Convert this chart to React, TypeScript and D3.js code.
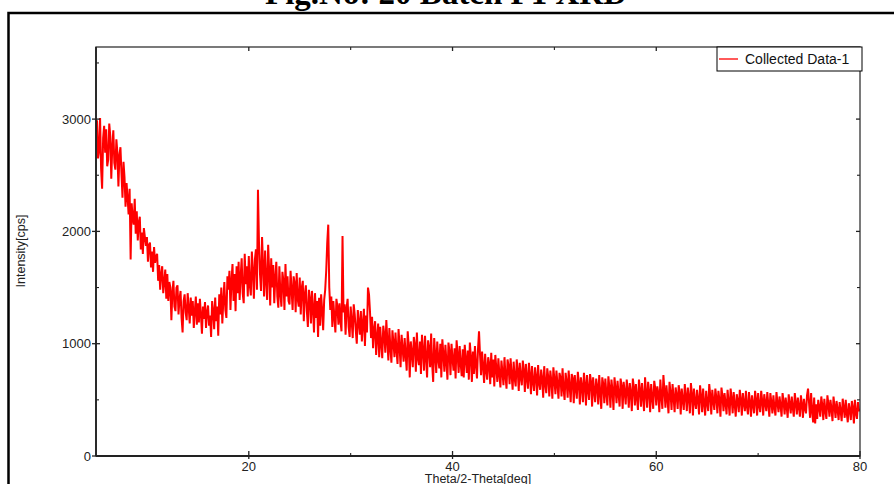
import React from "react";
import * as d3 from "d3";

const scanStart = 5;
const scanStep = 0.1;

const intensity05to20 = [
  2880, 2990, 2650, 2720, 3010, 2560, 2380, 2830, 2940, 2700,
  2910, 2580, 2640, 2960, 2850, 2470, 2760, 2900, 2610, 2550,
  2820, 2700, 2400, 2680, 2750, 2520, 2300, 2620, 2480, 2220,
  2430, 2300, 2150, 2380, 1750, 2250, 2120, 2060, 2290, 1980,
  2180, 1920, 2080, 2130, 1840, 1990, 1800, 2030, 1950, 1870,
  1950, 1730, 1880, 1900, 1680, 1820, 1640, 1860, 1720, 1780,
  1800, 1560, 1700, 1480, 1620, 1690, 1450, 1550, 1660, 1400,
  1620, 1380, 1550, 1500, 1210, 1460, 1560, 1330, 1290, 1500,
  1520, 1260, 1400, 1470, 1230, 1100, 1380, 1440, 1280, 1210,
  1450, 1320, 1180, 1410, 1250, 1380, 1140, 1290, 1420, 1170,
  1360, 1190, 1400, 1260, 1090, 1330, 1220, 1370, 1140, 1280,
  1340, 1160, 1250, 1060, 1380, 1290, 1130, 1410, 1200, 1330,
  1070, 1440, 1260, 1500, 1180, 1380, 1550, 1300, 1230, 1600,
  1480, 1650, 1300, 1560, 1710, 1380, 1620, 1290, 1690, 1450,
  1730, 1390, 1600, 1760, 1450, 1360, 1800, 1530, 1690, 1420,
];

const intensity20to35 = [
  1780, 1520, 1430, 1820, 1650, 1400, 1750, 1840, 1480, 2370,
  1900, 1620, 1470, 1950, 1700, 1420, 1830, 1560, 1390, 1880,
  1650, 1340, 1760, 1500, 1700, 1360, 1580, 1730, 1420, 1320,
  1690, 1450, 1330, 1640, 1560, 1300, 1710, 1420, 1600, 1380,
  1350, 1650, 1480, 1300, 1600, 1540, 1280, 1630, 1400, 1330,
  1590, 1260, 1500, 1560, 1200, 1440, 1520, 1290, 1150, 1480,
  1400, 1180, 1470, 1320, 1100, 1450, 1230, 1380, 1060, 1410,
  1160, 1440, 1300, 1120, 1390, 1480, 1650, 1900, 2060, 1500,
  1300, 1420, 1150, 1380, 1240, 1100, 1400, 1330, 1170, 1360,
  1200, 1110, 1960, 1280, 1350, 1080, 1320, 1400, 1150, 1060,
  1330, 1200, 1050, 1350, 1260, 1120, 1000, 1300, 1190, 1080,
  1290, 1020, 1180, 1310, 980, 1250, 1100, 1500, 1440, 1280,
  1050, 1240, 960, 1130, 1200, 900, 1060, 1180, 880, 1150,
  1000, 870, 1160, 1080, 920, 1210, 1030, 850, 1140, 960,
  830, 1120, 1010, 880, 1100, 940, 820, 1130, 980, 790,
];

const intensity35to50 = [
  1080, 950, 840, 1050, 900, 760, 1110, 980, 700, 1020,
  920, 790, 1060, 990, 750, 1100, 870, 810, 1020, 730,
  1080, 940, 760, 1070, 880, 700, 1030, 960, 790, 1090,
  820, 660, 1050, 900, 740, 1020, 860, 780, 1000, 700,
  1040, 910, 750, 990, 840, 680, 1010, 930, 720, 1000,
  860, 760, 960, 690, 1030, 900, 740, 980, 820, 710,
  950, 700, 990, 860, 740, 940, 680, 1010, 880, 660,
  930, 730, 980, 810, 690, 950, 1110, 900, 720, 930,
  800, 650, 910, 760, 680, 880, 820, 640, 920, 700,
  860, 620, 900, 780, 660, 870, 730, 610, 850, 750,
  630, 880, 710, 600, 860, 800, 640, 870, 720, 590,
  840, 690, 620, 860, 760, 580, 830, 700, 630, 850,
  760, 570, 820, 690, 600, 830, 720, 550, 800, 660,
  580, 790, 700, 540, 810, 650, 590, 770, 690, 520,
  800, 640, 560, 780, 700, 530, 760, 670, 510, 790,
];

const intensity50to65 = [
  680, 550, 760, 640, 510, 740, 700, 530, 780, 600,
  500, 740, 660, 520, 760, 620, 480, 730, 690, 470,
  720, 600, 510, 750, 650, 460, 700, 620, 480, 740,
  630, 450, 720, 590, 500, 730, 660, 440, 700, 580,
  480, 690, 620, 460, 720, 560, 420, 700, 640, 470,
  690, 560, 450, 710, 610, 430, 680, 590, 410, 700,
  600, 470, 670, 550, 440, 690, 620, 420, 660, 570,
  460, 680, 590, 430, 650, 560, 400, 690, 610, 450,
  640, 520, 410, 680, 590, 440, 650, 530, 400, 700,
  560, 430, 660, 580, 390, 640, 520, 420, 670, 600,
  450, 620, 560, 390, 680, 530, 420, 720, 590, 430,
  630, 510, 380, 660, 560, 410, 640, 520, 390, 610,
  540, 420, 630, 560, 370, 600, 500, 410, 640, 530,
  400, 610, 520, 380, 650, 550, 360, 600, 480, 420,
  590, 500, 370, 630, 530, 390, 600, 470, 360, 580,
];

const intensity65to80 = [
  470, 400, 640, 540, 370, 590, 490, 410, 600, 520,
  380, 580, 500, 350, 610, 530, 400, 560, 470, 370,
  590, 480, 360, 600, 510, 380, 570, 460, 350, 550,
  490, 390, 590, 500, 360, 560, 470, 400, 580, 440,
  370, 570, 480, 350, 540, 460, 380, 580, 500, 360,
  560, 450, 390, 580, 490, 360, 550, 470, 400, 570,
  460, 350, 560, 480, 380, 540, 430, 360, 570, 470,
  390, 530, 450, 350, 560, 480, 370, 520, 440, 340,
  550, 460, 380, 530, 430, 350, 560, 470, 370, 520,
  440, 350, 540, 460, 340, 510, 420, 380, 540, 600,
  470, 340, 560, 400, 300, 520, 290, 460, 330, 500,
  430, 350, 530, 450, 320, 510, 400, 330, 540, 460,
  350, 500, 420, 310, 530, 440, 340, 490, 410, 320,
  480, 400, 310, 510, 430, 340, 500, 380, 300, 470,
  410, 320, 490, 430, 290, 500, 380, 330, 480, 400,
  420,
];

const xMajorTicks = [20, 40, 60, 80];
const xMinorTicks = [30, 50, 70];
const yMajorTicks = [0, 1000, 2000, 3000];
const yMinorTicks = [500, 1500, 2500, 3500];

const titleText = "Fig.No: 20 Batch F1 XRD";
const xTitle = "Theta/2-Theta[deg]";
const yTitle = "Intensity[cps]";
const seriesName = "Collected Data-1";

export default function App() {
  const W = 894;
  const H = 484;
  const left = 96;
  const right = 860;
  const top = 47;
  const bottom = 456;

  const x = d3.scaleLinear().domain([5, 80]).range([left, right]);
  const y = d3.scaleLinear().domain([0, 3642]).range([bottom, top]);

  const values = [
    ...intensity05to20,
    ...intensity20to35,
    ...intensity35to50,
    ...intensity50to65,
    ...intensity65to80,
  ];
  const data = values.map((v, i) => ({ t: scanStart + i * scanStep, v }));

  const line = d3
    .line<{ t: number; v: number }>()
    .x((d) => x(d.t))
    .y((d) => y(d.v));

  const sans = "'Liberation Sans', Arial, sans-serif";
  const axisColor = "#333";

  return (
    <svg
      width={W}
      height={H}
      style={{ position: "absolute", left: 0, top: 0, background: "#fff" }}
    >
      <defs>
        <clipPath id="plotClip">
          <rect x={left} y={top} width={right - left} height={bottom - top} />
        </clipPath>
        <clipPath id="legClip">
          <rect x={717} y={47} width={145} height={24} />
        </clipPath>
      </defs>
      <rect x={0} y={0} width={W} height={H} fill="#fff" />
      <text
        x={446}
        y={4}
        textAnchor="middle"
        fontFamily="'Liberation Serif', 'Times New Roman', serif"
        fontWeight="bold"
        fontSize={33}
        fill="#000"
      >
        {titleText}
      </text>
      <rect
        x={8.5}
        y={13}
        width={W + 20}
        height={H + 20}
        fill="none"
        stroke="#000"
        strokeWidth={2.5}
      />

      <path
        d={line(data) || ""}
        fill="none"
        stroke="#ff0000"
        strokeWidth={2}
        strokeLinejoin="bevel"
        clipPath="url(#plotClip)"
      />

      <rect
        x={left}
        y={top}
        width={right - left}
        height={bottom - top}
        fill="none"
        stroke={axisColor}
        strokeWidth={1.3}
      />
      <line x1={left} y1={top} x2={left} y2={bottom} stroke="#222" strokeWidth={1.8} />
      <line x1={left} y1={bottom} x2={right} y2={bottom} stroke="#222" strokeWidth={1.8} />

      {yMajorTicks.map((t) => (
        <g key={"ym" + t}>
          <line x1={left - 4} x2={left + 4} y1={y(t)} y2={y(t)} stroke="#222" strokeWidth={1.3} />
          <line x1={right - 4} x2={right} y1={y(t)} y2={y(t)} stroke="#222" strokeWidth={1.3} />
          <text
            x={left - 5}
            y={y(t)}
            textAnchor="end"
            dominantBaseline="central"
            fontFamily={sans}
            fontSize={13}
            fill="#222"
          >
            {t}
          </text>
        </g>
      ))}
      {yMinorTicks.map((t) => (
        <g key={"yn" + t}>
          <line x1={left} x2={left + 3} y1={y(t)} y2={y(t)} stroke="#222" strokeWidth={1.1} />
          <line x1={right - 3} x2={right} y1={y(t)} y2={y(t)} stroke="#222" strokeWidth={1.1} />
        </g>
      ))}
      {xMajorTicks.map((t) => (
        <g key={"xm" + t}>
          <line x1={x(t)} x2={x(t)} y1={bottom - 5} y2={bottom + 3} stroke="#222" strokeWidth={1.3} />
          <line x1={x(t)} x2={x(t)} y1={top} y2={top + 4} stroke="#222" strokeWidth={1.3} />
          <text
            x={x(t)}
            y={471}
            textAnchor="middle"
            fontFamily={sans}
            fontSize={13}
            fill="#222"
          >
            {t}
          </text>
        </g>
      ))}
      {xMinorTicks.map((t) => (
        <g key={"xn" + t}>
          <line x1={x(t)} x2={x(t)} y1={bottom - 3} y2={bottom} stroke="#222" strokeWidth={1.1} />
          <line x1={x(t)} x2={x(t)} y1={top} y2={top + 3} stroke="#222" strokeWidth={1.1} />
        </g>
      ))}

      <text
        x={478}
        y={483}
        textAnchor="middle"
        fontFamily={sans}
        fontSize={12.5}
        fill="#222"
      >
        {xTitle}
      </text>
      <text
        transform={`translate(21, 251) rotate(-90)`}
        textAnchor="middle"
        dominantBaseline="central"
        fontFamily={sans}
        fontSize={12.5}
        fill="#222"
      >
        {yTitle}
      </text>

      <g>
        <rect x={717} y={47} width={145} height={24} fill="#fff" stroke="#000" strokeWidth={1} />
        <line x1={719} x2={738} y1={59} y2={59} stroke="#ff0000" strokeWidth={1.3} />
        <text
          x={745}
          y={64}
          fontFamily={sans}
          fontSize={14}
          fill="#111"
          clipPath="url(#legClip)"
        >
          {seriesName}
        </text>
      </g>
    </svg>
  );
}
